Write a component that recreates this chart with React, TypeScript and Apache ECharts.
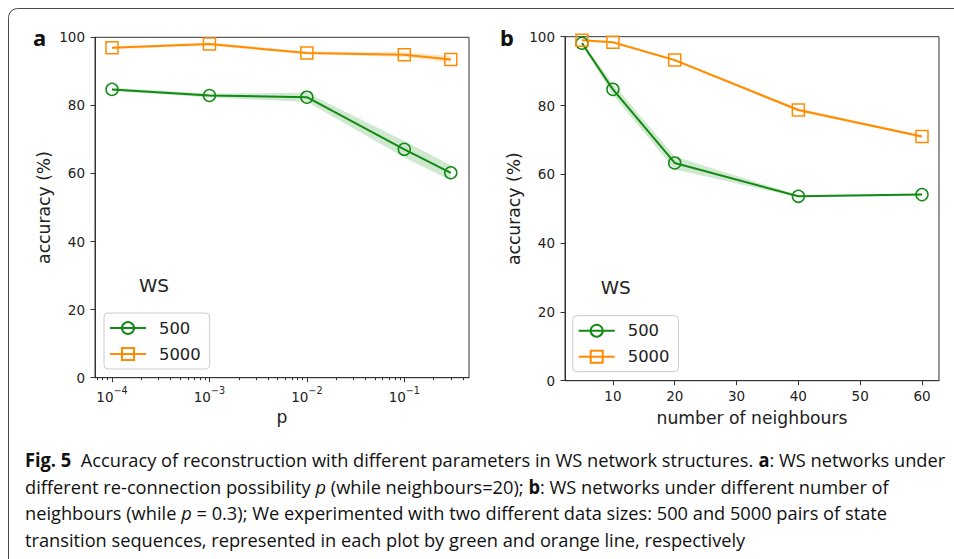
import React, { useEffect, useRef } from 'react';
import * as echarts from 'echarts';

// ---------- data ----------
const seriesNames = ['500', '5000'];

const pValues = [0.0001, 0.001, 0.01, 0.1, 0.3];
const accP500 = [84.7, 82.9, 82.4, 67.1, 60.2];
const accP5000 = [96.9, 98.0, 95.4, 94.9, 93.5];
const sdP500 = [0.5, 0.6, 1.3, 2.4, 2.2];
const sdP5000 = [0.4, 0.5, 0.4, 0.7, 1.0];

const neighbours = [5, 10, 20, 40, 60];
const accN500 = [98.1, 84.7, 63.3, 53.6, 54.1];
const accN5000 = [99.0, 98.4, 93.2, 78.7, 71.0];
const sdN500 = [0.5, 1.6, 1.9, 0.3, 0.3];
const sdN5000 = [0.2, 0.3, 0.4, 0.5, 0.4];

const pTicks = [0.0001, 0.001, 0.01, 0.1];
const pTickExponents = ['−4', '−3', '−2', '−1'];
const nTicks = [10, 20, 30, 40, 50, 60];

const captionLines = [
  '{b|Fig. 5}  Accuracy of reconstruction with different parameters in WS network structures. {b|a}: WS networks under',
  'different re-connection possibility {i|p} (while neighbours=20); {b|b}: WS networks under different number of',
  'neighbours (while {i|p} = 0.3); We experimented with two different data sizes: 500 and 5000 pairs of state',
  'transition sequences, represented in each plot by green and orange line, respectively',
];

// ---------- style ----------
const GREEN = '#138a13';
const ORANGE = '#ff8c00';
const AX = '#333333';
const TXT = '#222222';
const MPL = 'DejaVu Sans';
const CAP = 'Open Sans';
const CAP_SIZE = 19;

const minorLogTicks: number[] = [];
for (let e = -5; e <= -1; e++) {
  for (let k = 2; k <= 9; k++) minorLogTicks.push(k * Math.pow(10, e));
}

function measureCaption(line: string): number {
  const c = document.createElement('canvas').getContext('2d');
  if (!c) return 1;
  let w = 0;
  const re = /\{(b|i)\|([^}]*)\}/g;
  let last = 0;
  let m: RegExpExecArray | null;
  const seg = (t: string, weight: string, style: string) => {
    c.font = `${style} ${weight} ${CAP_SIZE}px "${CAP}"`;
    w += c.measureText(t).width;
  };
  while ((m = re.exec(line))) {
    seg(line.slice(last, m.index), 'normal', 'normal');
    if (m[1] === 'b') seg(m[2], 'bold', 'normal');
    else seg(m[2], 'normal', 'italic');
    last = m.index + m[0].length;
  }
  seg(line.slice(last), 'normal', 'normal');
  return w;
}

function band(id: string, xs: number[], mean: number[], sd: number[], color: string, xi: number, yi: number) {
  const lo = xs.map((_, i) => mean[i] - sd[i]);
  const hi = xs.map((_, i) => mean[i] + sd[i]);
  return {
    type: 'custom', name: id, xAxisIndex: xi, yAxisIndex: yi, silent: true, z: 1,
    data: xs.map((x, i) => [x, lo[i], hi[i]]),
    encode: { x: 0, y: [1, 2] },
    renderItem: (params: any, api: any) => {
      if (params.dataIndex !== 0) return null;
      const upper = xs.map((x, i) => api.coord([x, hi[i]]));
      const lower = xs.map((x, i) => api.coord([x, lo[i]])).reverse();
      return {
        type: 'polygon',
        shape: { points: upper.concat(lower) },
        style: { fill: color, opacity: 0.2, stroke: 'none' },
      };
    },
  };
}

function mainLine(name: string, xs: number[], ys: number[], color: string, symbol: string, xi: number, yi: number) {
  return {
    type: 'line', name, xAxisIndex: xi, yAxisIndex: yi,
    data: xs.map((x, i) => [x, ys[i]]),
    symbol, symbolSize: 12,
    itemStyle: { color: 'rgba(255,255,255,0)', borderColor: color, borderWidth: 1.5 },
    lineStyle: { color, width: 2 },
    z: 3,
  };
}

const tickLabel = { fontFamily: MPL, fontSize: 13.5, color: TXT };
const nameStyle = { fontFamily: MPL, fontSize: 17.2, color: TXT };

function yAxis(gridIndex: number) {
  return {
    type: 'value', gridIndex, min: 0, max: 100, interval: 20,
    axisLine: { show: true, lineStyle: { color: AX, width: 1 } },
    axisTick: { show: true, length: 4.5, lineStyle: { color: AX } },
    axisLabel: { ...tickLabel, margin: 10 },
    splitLine: { show: false },
    name: 'accuracy (%)', nameLocation: 'middle', nameGap: 43, nameRotate: 90,
    nameTextStyle: nameStyle,
  };
}

function legend(left: number, top: number) {
  return {
    orient: 'vertical', left, top, data: seriesNames,
    itemWidth: 36, itemHeight: 15, itemGap: 8,
    padding: [6, 9, 6, 5],
    backgroundColor: 'rgba(255,255,255,0.8)',
    borderColor: '#cccccc', borderWidth: 1, borderRadius: 4,
    textStyle: { fontFamily: MPL, fontSize: 16.4, color: TXT, lineHeight: 18, padding: [0, 0, 0, 8] },
    selectedMode: false,
  };
}

export default function App() {
  const ref = useRef<HTMLDivElement>(null);
  useEffect(() => {
    if (!ref.current) return;
    const chart = echarts.init(ref.current, undefined, { renderer: 'svg' });
    const scaleX = 920 / measureCaption(captionLines[0]);
    const capRich = {
      b: { fontFamily: CAP, fontSize: CAP_SIZE, fontWeight: 'bold', fill: '#111' },
      i: { fontFamily: CAP, fontSize: CAP_SIZE, fontStyle: 'italic', fill: '#111' },
    };
    const capY = [459, 486, 512.5, 539.5];

    chart.setOption({
      animation: false,
      grid: [
        { left: 95, top: 37.3, width: 374, height: 340.4, show: true, borderColor: AX, borderWidth: 1, outerBoundsMode: 'none' },
        { left: 565, top: 36.7, width: 374, height: 344, show: true, borderColor: AX, borderWidth: 1, outerBoundsMode: 'none' },
      ],
      xAxis: [
        {
          type: 'log', logBase: 10, gridIndex: 0, position: 'bottom',
          min: Math.pow(10, -4.1745), max: Math.pow(10, -0.336),
          axisLine: { show: true, lineStyle: { color: AX, width: 1 } },
          axisTick: { show: true, length: 4.5, customValues: pTicks, lineStyle: { color: AX } },
          axisLabel: {
            ...tickLabel, margin: 8, customValues: pTicks,
            formatter: (v: number) => {
              const idx = pTicks.findIndex((t) => Math.abs(Math.log10(t) - Math.log10(v)) < 1e-6);
              return idx >= 0 ? `{n|10}{s|${pTickExponents[idx]}}` : '';
            },
            rich: {
              n: { fontFamily: MPL, fontSize: 13.5, color: TXT, lineHeight: 18, verticalAlign: 'bottom' },
              s: { fontFamily: MPL, fontSize: 9.6, color: TXT, lineHeight: 11, verticalAlign: 'top' },
            },
          },
          splitLine: { show: false },
          name: 'p', nameLocation: 'middle', nameGap: 28, nameTextStyle: nameStyle,
        },
        {
          type: 'log', logBase: 10, gridIndex: 0, position: 'bottom',
          min: Math.pow(10, -4.1745), max: Math.pow(10, -0.336),
          axisLine: { show: false },
          axisTick: { show: true, length: 2.5, customValues: minorLogTicks, lineStyle: { color: AX } },
          axisLabel: { show: false },
          splitLine: { show: false },
        },
        {
          type: 'value', gridIndex: 1, position: 'bottom', min: 2.25, max: 62.75,
          axisLine: { show: true, lineStyle: { color: AX, width: 1 } },
          axisTick: { show: true, length: 4.5, customValues: nTicks, lineStyle: { color: AX } },
          axisLabel: { ...tickLabel, margin: 8, customValues: nTicks },
          splitLine: { show: false },
          name: 'number of neighbours', nameLocation: 'middle', nameGap: 29, nameTextStyle: nameStyle,
        },
      ],
      yAxis: [yAxis(0), yAxis(1)],
      legend: [legend(104, 313), legend(572.7, 315.7)],
      series: [
        band('bp500', pValues, accP500, sdP500, GREEN, 0, 0),
        band('bp5000', pValues, accP5000, sdP5000, ORANGE, 0, 0),
        band('bn500', neighbours, accN500, sdN500, GREEN, 2, 1),
        band('bn5000', neighbours, accN5000, sdN5000, ORANGE, 2, 1),
        mainLine(seriesNames[0], pValues, accP500, GREEN, 'circle', 0, 0),
        mainLine(seriesNames[1], pValues, accP5000, ORANGE, 'rect', 0, 0),
        mainLine(seriesNames[0], neighbours, accN500, GREEN, 'circle', 2, 1),
        mainLine(seriesNames[1], neighbours, accN5000, ORANGE, 'rect', 2, 1),
      ],
      graphic: [
        {
          type: 'rect', shape: { x: 8.5, y: 8.5, width: 1000, height: 700, r: 9 },
          style: { fill: 'none', stroke: '#4a4a4a', lineWidth: 1 }, silent: true, z: 0,
        },
        { type: 'text', x: 33, y: 36.5, style: { text: 'a', fontFamily: 'Noto Sans', fontWeight: 'bold', fontSize: 22, fill: '#111', verticalAlign: 'middle' } },
        { type: 'text', x: 500, y: 37, style: { text: 'b', fontFamily: 'Noto Sans', fontWeight: 'bold', fontSize: 22, fill: '#111', verticalAlign: 'middle' } },
        { type: 'text', x: 139, y: 285, style: { text: 'WS', fontFamily: MPL, fontSize: 18.5, fill: TXT, verticalAlign: 'middle' } },
        { type: 'text', x: 600.7, y: 287, style: { text: 'WS', fontFamily: MPL, fontSize: 18.5, fill: TXT, verticalAlign: 'middle' } },
        ...captionLines.map((line, i) => ({
          type: 'text', x: 25, y: capY[i], scaleX,
          style: {
            text: line, fontFamily: CAP, fontSize: CAP_SIZE, fill: '#111',
            verticalAlign: 'middle', rich: capRich,
          },
        })),
      ],
    });
    return () => chart.dispose();
  }, []);
  return (
    <div
      ref={ref}
      style={{ position: 'fixed', left: 0, top: 0, width: 954, height: 559, background: '#fff' }}
    />
  );
}
